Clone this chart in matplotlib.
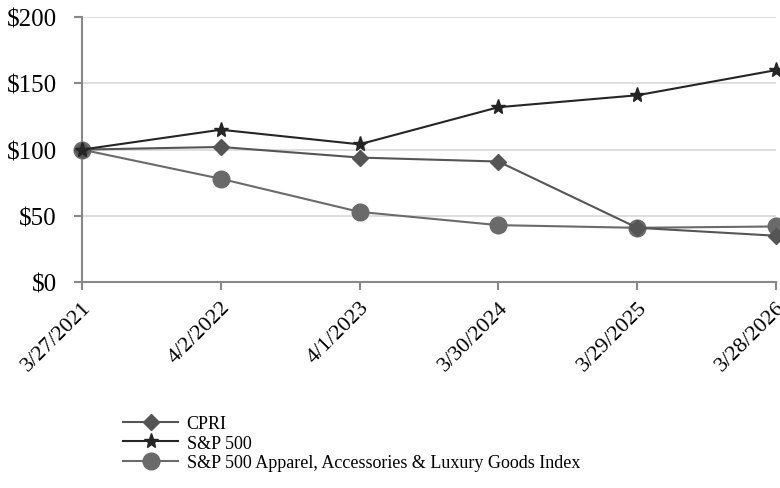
import matplotlib.pyplot as plt

# Data
dates = ['3/27/2021', '4/2/2022', '4/1/2023', '3/30/2024', '3/29/2025', '3/28/2026']
cpri = [100, 102, 94, 91, 41, 35]
sp500 = [100, 115, 104, 132, 141, 160]
apparel = [100, 78, 53, 43, 41, 42]
yticks = [0, 50, 100, 150, 200]

plt.rcParams['font.family'] = ['Liberation Serif', 'DejaVu Serif']

fig = plt.figure(figsize=(7.8, 4.89), dpi=100)
ax = fig.add_axes([0.105, 0.421, 0.89, 0.542])

x = list(range(len(dates)))
ax.plot(x, cpri, color='#555555', marker='D', markersize=8, lw=1.5,
        label='CPRI', clip_on=False, zorder=3)
ax.plot(x, sp500, color='#252525', marker='*', markersize=11, lw=1.5,
        label='S&P 500', clip_on=False, zorder=4)
ax.plot(x, apparel, color='#6a6a6a', marker='o', markersize=12, lw=1.5,
        label='S&P 500 Apparel, Accessories & Luxury Goods Index',
        clip_on=False, zorder=2)

ax.set_xlim(0, len(dates) - 1)
ax.set_ylim(0, 200)
ax.set_yticks(yticks)
ax.set_yticklabels(['$%d' % v for v in yticks])
ax.set_xticks(x)
ax.set_xticklabels(dates, rotation=45, ha='right', rotation_mode='anchor')

ax.grid(axis='y', color='#d8d8d8', lw=1.2)
ax.set_axisbelow(True)
for s in ['top', 'right']:
    ax.spines[s].set_visible(False)
for s in ['left', 'bottom']:
    ax.spines[s].set_color('#888888')
    ax.spines[s].set_linewidth(1.5)
ax.tick_params(axis='both', colors='#888888', width=1.5, length=6,
               labelcolor='black')
ax.tick_params(axis='y', pad=12, labelsize=18)
ax.tick_params(axis='x', pad=5, labelsize=16)

fig.legend(loc='upper left', bbox_to_anchor=(0.149, 0.164), frameon=False,
           fontsize=13, handlelength=3.0, handletextpad=0.5,
           labelspacing=0.15, borderaxespad=0)

fig.savefig('out.png', dpi=100)
